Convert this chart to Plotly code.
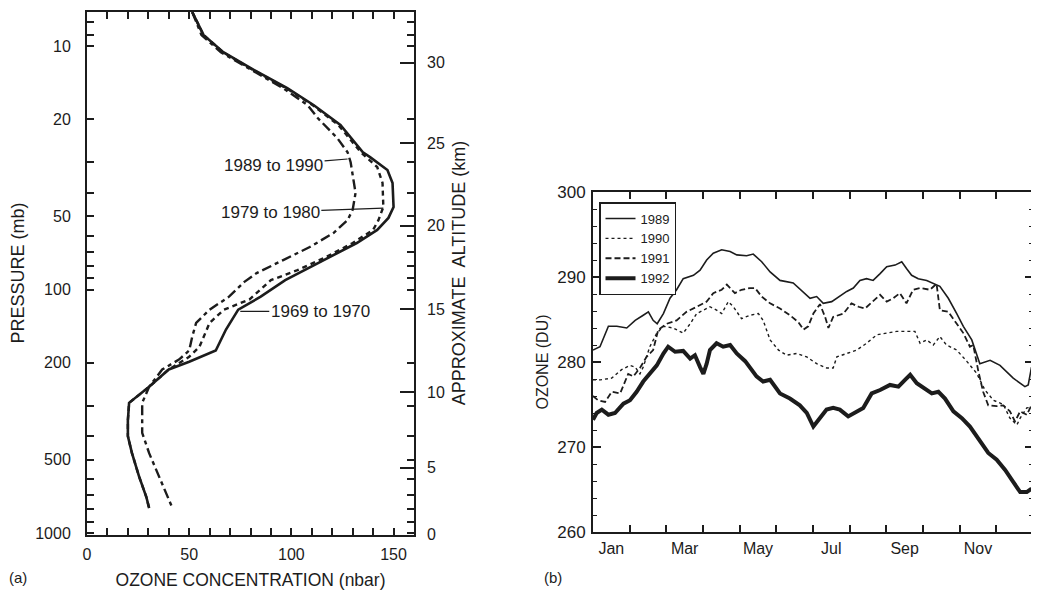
import math
import plotly.graph_objects as go

# ---------------- Panel (a): ozone profiles ----------------
p_1969 = [7.25, 9.0, 10.6, 12.5, 14.9, 17.5, 21.1, 27.3, 28.6, 32.3, 36.5, 45.8, 50.8, 56.9,
          64.4, 73.5, 83.3, 91.5, 107, 121, 146, 178, 198, 213, 251, 292, 345, 400,
          470, 587, 710, 790]
o_1969 = [51.5, 57, 66.7, 81.4, 98, 111, 124, 135, 138.5, 147, 149.5, 150, 147.5, 142,
          132, 119, 106, 97, 85, 74, 68, 63, 50, 40, 30.4, 20.6, 20, 20,
          22, 25.5, 29, 30.4]

p_1979 = [7.25, 9.0, 10.6, 12.5, 14.9, 17.5, 21.1, 27.3, 31.4, 36.5, 45.8, 51.9, 56.9,
          64.4, 73.5, 83.3, 91.5, 110, 121, 137, 172, 189, 213, 251, 292, 345, 400,
          470, 587, 710, 790]
o_1979 = [51.5, 57, 66.5, 81, 97.5, 110.5, 123, 134, 142, 144.6, 145, 142.6, 140,
          130, 117, 103, 90, 79.4, 67, 60, 55, 50, 40, 30.4, 20.6, 20, 20,
          22, 25.5, 29, 30.4]

p_1989 = [7.25, 9.0, 10.6, 12.5, 14.9, 17.5, 19.8, 23.9, 27.3, 30.0, 35.5, 40.1, 47.0,
          51.9, 58.6, 66.9, 75.7, 85.6, 93, 107, 121, 137, 156, 178, 194, 213, 251,
          292, 345, 388, 470, 587, 710, 797]
o_1989 = [51.5, 56, 65.5, 80, 96, 108, 113, 122.5, 127.5, 129, 130.4, 131.4, 130,
          127.5, 120.6, 109, 96, 83, 77, 69.5, 60, 53.4, 51.5, 50, 45, 36.8, 30.4,
          27, 27, 27, 30.4, 35.3, 39.2, 42]

x_ticks_a = list(range(0, 160, 10))
x_labels_a = [str(v) if v % 50 == 0 else "" for v in x_ticks_a]
p_ticks = [8, 9, 10, 20, 30, 40, 50, 60, 70, 80, 90, 100, 200, 300, 400, 500, 600,
           700, 800, 900, 1000]
p_labelled = [10, 20, 50, 100, 200, 500, 1000]
alt_km = [0, 5, 10, 15, 20, 25, 30]

# ---------------- Panel (b): total ozone by year ----------------
m_1989 = [0.0, 0.19, 0.42, 0.65, 0.92, 1.15, 1.37, 1.51, 1.64, 1.75, 1.92, 2.1, 2.28, 2.46,
          2.74, 2.92, 3.1, 3.28, 3.51, 3.74, 3.92, 4.19, 4.37, 4.6, 4.83, 5.1, 5.46, 5.73,
          5.92, 6.1, 6.28, 6.51, 6.65, 6.92, 7.1, 7.28, 7.46, 7.64, 7.83, 8.01, 8.24,
          8.42, 8.55, 8.69, 8.87, 9.1, 9.46, 9.69, 9.92, 10.1, 10.33, 10.55, 10.83, 11.1,
          11.46, 11.78, 11.87, 11.96]
du_1989 = [281.4, 281.8, 284.2, 284.2, 284.0, 284.9, 285.5, 285.9, 284.9, 284.5, 285.7,
           287.5, 288.5, 289.8, 290.2, 290.8, 292.0, 292.8, 293.2, 293.0, 292.6, 292.5,
           292.7, 291.8, 290.6, 289.6, 289.3, 288.3, 287.5, 287.7, 286.9, 287.1, 287.5,
           288.3, 288.7, 289.6, 289.8, 289.6, 290.4, 291.2, 291.4, 291.8, 291.0, 290.2,
           289.8, 289.6, 288.9, 287.5, 285.7, 284.2, 282.6, 279.8, 280.2, 279.6, 278.1,
           277.1, 277.3, 279.4]

m_1990 = [0.0, 0.2, 0.51, 0.78, 1.01, 1.15, 1.28, 1.37, 1.55, 1.74, 1.92, 2.19, 2.46, 2.65,
          2.83, 3.01, 3.19, 3.37, 3.51, 3.69, 3.83, 4.05, 4.28, 4.51, 4.64, 4.83, 5.06,
          5.28, 5.56, 5.83, 6.1, 6.37, 6.55, 6.65, 6.92, 7.19, 7.46, 7.74, 8.01, 8.28,
          8.55, 8.78, 8.92, 9.1, 9.28, 9.46, 9.64, 9.92, 10.19, 10.46, 10.69, 10.92,
          11.19, 11.37, 11.56, 11.65, 11.83, 11.96]
du_1990 = [277.9, 277.9, 278.1, 279.1, 279.6, 279.4, 278.6, 279.4, 281.8, 283.4, 284.2,
           284.0, 283.4, 284.5, 285.7, 286.1, 286.5, 286.1, 285.7, 287.1, 286.5, 285.1,
           285.5, 285.7, 284.9, 282.6, 281.4, 280.8, 281.0, 280.6, 279.8, 279.3, 279.3,
           280.6, 281.0, 281.4, 282.2, 283.2, 283.4, 283.6, 283.6, 283.6, 282.2, 282.6,
           282.0, 283.0, 282.0, 281.4, 280.1, 278.7, 276.7, 275.5, 275.0, 273.4, 272.6,
           273.4, 274.6, 274.7]

m_1991 = [0.0, 0.14, 0.33, 0.51, 0.74, 0.96, 1.1, 1.28, 1.46, 1.64, 1.78, 2.01, 2.28, 2.55,
          2.83, 3.1, 3.28, 3.51, 3.65, 3.87, 4.05, 4.28, 4.42, 4.6, 4.83, 5.1, 5.37, 5.6,
          5.74, 5.87, 6.01, 6.19, 6.33, 6.42, 6.55, 6.83, 7.05, 7.24, 7.42, 7.64, 7.83,
          8.01, 8.19, 8.37, 8.55, 8.73, 8.92, 9.19, 9.37, 9.46, 9.69, 9.92, 10.1, 10.28,
          10.37, 10.51, 10.64, 10.78, 11.01, 11.19, 11.37, 11.51, 11.65, 11.83, 11.96]
du_1991 = [276.0, 275.5, 275.3, 276.5, 276.3, 278.6, 278.3, 279.3, 280.6, 281.4, 283.8,
           284.5, 284.9, 285.9, 286.5, 287.1, 288.1, 288.5, 289.1, 288.1, 288.5, 288.7,
           288.7, 287.7, 286.9, 286.3, 285.5, 284.7, 283.8, 284.2, 285.7, 286.8, 285.3,
           284.0, 285.3, 285.7, 286.9, 286.5, 286.3, 287.1, 287.9, 287.1, 287.5, 288.1,
           286.9, 288.5, 288.7, 288.5, 289.2, 286.1, 285.9, 284.5, 283.4, 281.8, 282.0,
           278.9, 276.5, 274.9, 274.8, 274.9, 274.2, 273.0, 274.2, 273.8, 274.9]

m_1992 = [0.0, 0.1, 0.24, 0.42, 0.6, 0.83, 1.01, 1.19, 1.37, 1.55, 1.74, 1.92, 2.05, 2.24,
          2.46, 2.65, 2.78, 2.92, 3.01, 3.1, 3.19, 3.37, 3.55, 3.74, 3.92, 4.15, 4.46,
          4.64, 4.83, 5.1, 5.37, 5.64, 5.83, 6.01, 6.15, 6.37, 6.55, 6.73, 6.96, 7.19,
          7.37, 7.6, 7.83, 8.1, 8.33, 8.51, 8.65, 8.83, 9.05, 9.24, 9.42, 9.6, 9.83,
          10.06, 10.28, 10.55, 10.78, 11.01, 11.24, 11.46, 11.65, 11.83, 11.96]
du_1992 = [273.2, 274.0, 274.4, 273.8, 274.0, 275.1, 275.5, 276.5, 277.7, 278.7, 279.6,
           281.0, 281.8, 281.2, 281.3, 280.4, 280.8, 279.4, 278.6, 279.8, 281.4, 282.2,
           281.8, 282.0, 281.0, 280.1, 278.3, 277.7, 277.9, 276.3, 275.7, 274.9, 274.0,
           272.4, 273.2, 274.4, 274.6, 274.4, 273.6, 274.2, 274.6, 276.3, 276.7, 277.3,
           277.1, 277.9, 278.5, 277.5, 276.9, 276.3, 276.5, 275.7, 274.2, 273.4, 272.4,
           270.8, 269.3, 268.5, 267.3, 265.9, 264.7, 264.7, 265.1]

month_centres = [0.5, 2.5, 4.5, 6.5, 8.5, 10.5]
month_labels = ["Jan", "Mar", "May", "Jul", "Sep", "Nov"]
month_bounds = list(range(1, 12))


def std_atm_pressure(h_km):
    """US standard atmosphere pressure (mb) for an altitude in km."""
    h = h_km * 1000.0
    if h <= 11000:
        return 1013.25 * (1 - 2.25577e-5 * h) ** 5.25588
    if h <= 20000:
        return 226.32 * math.exp(-(h - 11000) / 6341.6)
    return 54.748 * (1 + 0.001 * (h - 20000) / 216.65) ** (-34.1632)


INK = "#1c1c1c"
FONT = "Liberation Sans"

# page body has an 8px margin; size the figure to fit the 1039x591 window
OFF = 8
W, H = 1039 - OFF, 591 - OFF


def fx(px):
    return (px - OFF) / W


def fy(py):
    return 1 - (py - OFF) / H


fig = go.Figure()

# panel (a) curves
fig.add_trace(go.Scatter(x=o_1969, y=p_1969, mode="lines", xaxis="x", yaxis="y",
                         line=dict(color=INK, width=2.6), showlegend=False))
fig.add_trace(go.Scatter(x=o_1979, y=p_1979, mode="lines", xaxis="x", yaxis="y",
                         line=dict(color=INK, width=2.4, dash="5px,4px"), showlegend=False))
fig.add_trace(go.Scatter(x=o_1989, y=p_1989, mode="lines", xaxis="x", yaxis="y",
                         line=dict(color=INK, width=2.4, dash="10px,4px,4px,4px"),
                         showlegend=False))
# dummy trace to activate altitude axis
fig.add_trace(go.Scatter(x=[None], y=[None], xaxis="x", yaxis="y2", showlegend=False))

# panel (b) curves
fig.add_trace(go.Scatter(x=m_1989, y=du_1989, mode="lines", name="1989", xaxis="x2", yaxis="y3",
                         line=dict(color=INK, width=1.6)))
fig.add_trace(go.Scatter(x=m_1990, y=du_1990, mode="lines", name="1990", xaxis="x2", yaxis="y3",
                         line=dict(color=INK, width=1.4, dash="dot")))
fig.add_trace(go.Scatter(x=m_1991, y=du_1991, mode="lines", name="1991", xaxis="x2", yaxis="y3",
                         line=dict(color=INK, width=1.8, dash="6px,3px")))
fig.add_trace(go.Scatter(x=m_1992, y=du_1992, mode="lines", name="1992", xaxis="x2", yaxis="y3",
                         line=dict(color=INK, width=4)))

yr_a = [math.log10(std_atm_pressure(0)) + 0.0005, 0.858]
alt_p = [std_atm_pressure(h) for h in alt_km]

axis_common = dict(showgrid=False, zeroline=False, showline=True, linecolor=INK,
                   linewidth=2, ticks="inside", tickcolor=INK, tickwidth=1.5,
                   automargin=False,
                   tickfont=dict(family=FONT, size=16, color=INK))

fig.update_layout(
    width=W, height=H, paper_bgcolor="white", plot_bgcolor="white",
    margin=dict(l=0, r=0, t=0, b=0, autoexpand=False),
    font=dict(family=FONT, color=INK),
    xaxis=dict(axis_common, domain=[fx(87), fx(414)], range=[0, 160], anchor="y",
               tickmode="array", tickvals=x_ticks_a, ticktext=x_labels_a, ticklen=7,
               mirror="ticks", ticklabelstandoff=4,
               title=dict(text="OZONE CONCENTRATION (nbar)", standoff=12,
                          font=dict(family=FONT, size=17.5, color=INK))),
    yaxis=dict(axis_common, domain=[fy(534.5), fy(11.5)], type="log", range=yr_a,
               anchor="x", tickmode="array", tickvals=p_ticks,
               ticktext=[str(v) if v in p_labelled else "" for v in p_ticks],
               ticklen=7, mirror="ticks", ticklabelstandoff=11,
               title=dict(text="PRESSURE (mb)", standoff=10,
                          font=dict(family=FONT, size=18, color=INK))),
    yaxis2=dict(axis_common, type="log", range=yr_a, overlaying="y", side="right",
                anchor="x", showline=False, tickmode="array", tickvals=alt_p,
                ticktext=[str(h) for h in alt_km], ticklen=14, ticklabelstandoff=12,
                title=dict(text="APPROXIMATE  ALTITUDE (km)", standoff=8,
                           font=dict(family=FONT, size=18, color=INK))),
    xaxis2=dict(axis_common, domain=[fx(593), fx(1033)], range=[0, 12], anchor="y3",
                tickmode="array", tickvals=month_centres, ticktext=month_labels,
                ticklen=0, mirror="ticks", ticklabelstandoff=1,
                tickfont=dict(family=FONT, size=16, color=INK),
                minor=dict(tickmode="array", tickvals=month_bounds, ticks="inside",
                           ticklen=7, tickcolor=INK, tickwidth=1.5)),
    yaxis3=dict(axis_common, domain=[fy(532), fy(192)], range=[260, 300],
                anchor="x2", tickmode="array", tickvals=[260, 270, 280, 290, 300],
                ticklen=8, mirror="ticks", ticklabelstandoff=2,
                tickfont=dict(family=FONT, size=17, color=INK),
                minor=dict(dtick=2, ticks="inside", ticklen=4, tickcolor=INK, tickwidth=1.2),
                title=dict(text="OZONE (DU)", standoff=5,
                           font=dict(family=FONT, size=16, color=INK))),
    legend=dict(x=fx(599), y=fy(202), xanchor="left", yanchor="top",
                bgcolor="white", bordercolor=INK, borderwidth=1.5,
                font=dict(family=FONT, size=13, color=INK),
                tracegroupgap=0, itemwidth=30),
)

ann_font = dict(family=FONT, size=17, color=INK)
fig.add_annotation(x=127.5, y=math.log10(29.1), xref="x", yref="y", text="1989 to 1990",
                   showarrow=True, arrowhead=0, arrowwidth=1.2, arrowcolor=INK,
                   ax=-74, ay=6, font=ann_font)
fig.add_annotation(x=145, y=math.log10(46.3), xref="x", yref="y", text="1979 to 1980",
                   showarrow=True, arrowhead=0, arrowwidth=1.2, arrowcolor=INK,
                   ax=-113, ay=4, font=ann_font)
fig.add_annotation(x=75, y=math.log10(123), xref="x", yref="y", text="1969 to 1970",
                   showarrow=True, arrowhead=0, arrowwidth=1.2, arrowcolor=INK,
                   ax=80, ay=0, font=ann_font)
fig.add_annotation(x=fx(18), y=fy(577), xref="paper", yref="paper", text="(a)",
                   xanchor="center", yanchor="middle",
                   showarrow=False, font=dict(family=FONT, size=15, color=INK))
fig.add_annotation(x=fx(553), y=fy(577), xref="paper", yref="paper", text="(b)",
                   xanchor="center", yanchor="middle",
                   showarrow=False, font=dict(family=FONT, size=15, color=INK))

fig.write_html("out.html")
